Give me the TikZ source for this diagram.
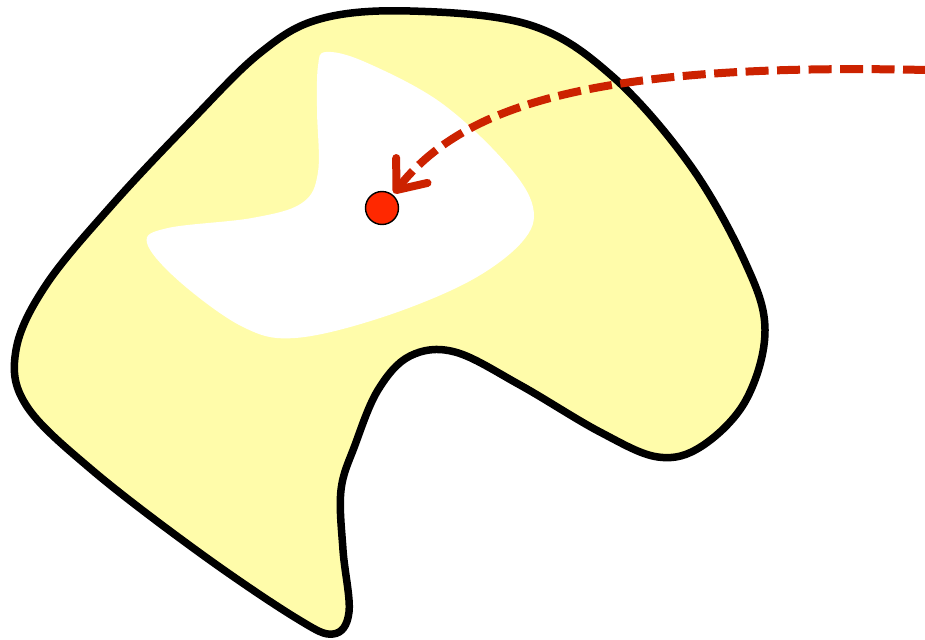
\documentclass[tikz,border=0pt]{standalone}
\usetikzlibrary{arrows.meta}

\definecolor{blobyellow}{RGB}{255,252,170}
\definecolor{pathred}{RGB}{204,34,0}
\definecolor{dotred}{RGB}{255,40,0}

\begin{document}
\begin{tikzpicture}[x=0.02cm, y=-0.02cm,
    outline/.style={line width=0.15cm, line join=round, fill=blobyellow},
    hole/.style={fill=white},
    pathcurve/.style={pathred, line width=0.16cm, dash pattern=on 0.46cm off 0.17cm,
      -{Straight Barb[length=0.5cm, width=0.8cm, round]}, shorten >=1pt},
    dot/.style={circle, draw=black, line width=0.8pt, fill=dotred, minimum size=0.66cm, inner sep=0pt}]

      \useasboundingbox (0,0) rectangle (925,639);

      % Region
      \draw[outline] plot[smooth cycle, tension=0.6] coordinates {
        (410,11) (530,25) (612,76) (690,165) (745,262) (765,330) (746,400)
        (702,446) (658,457) (600,432) (520,385) (455,352) (410,356)
        (378,390) (355,445) (341,490) (343,550) (349,612) (333,634)
        (296,618) (200,553) (92,470) (26,405) (16,350) (46,285)
        (112,205) (190,122) (260,53) (320,19)};

      % Hole
      \fill[hole] plot[smooth cycle, tension=0.6] coordinates {
        (326,52) (365,62) (440,102) (505,162) (533,207) (522,242)
        (468,282) (380,318) (295,338) (243,327) (180,282) (147,243)
        (168,228) (252,218) (302,203) (318,172) (317,110) (318,66)};

      % Point
      \node[dot] (pt) at (382,208) {};

      % Dashed path to the point
      \coordinate (start) at (926,70);
      \draw[pathcurve] (start) .. controls (580,62) and (460,110) .. (pt);

\end{tikzpicture}
\end{document}
